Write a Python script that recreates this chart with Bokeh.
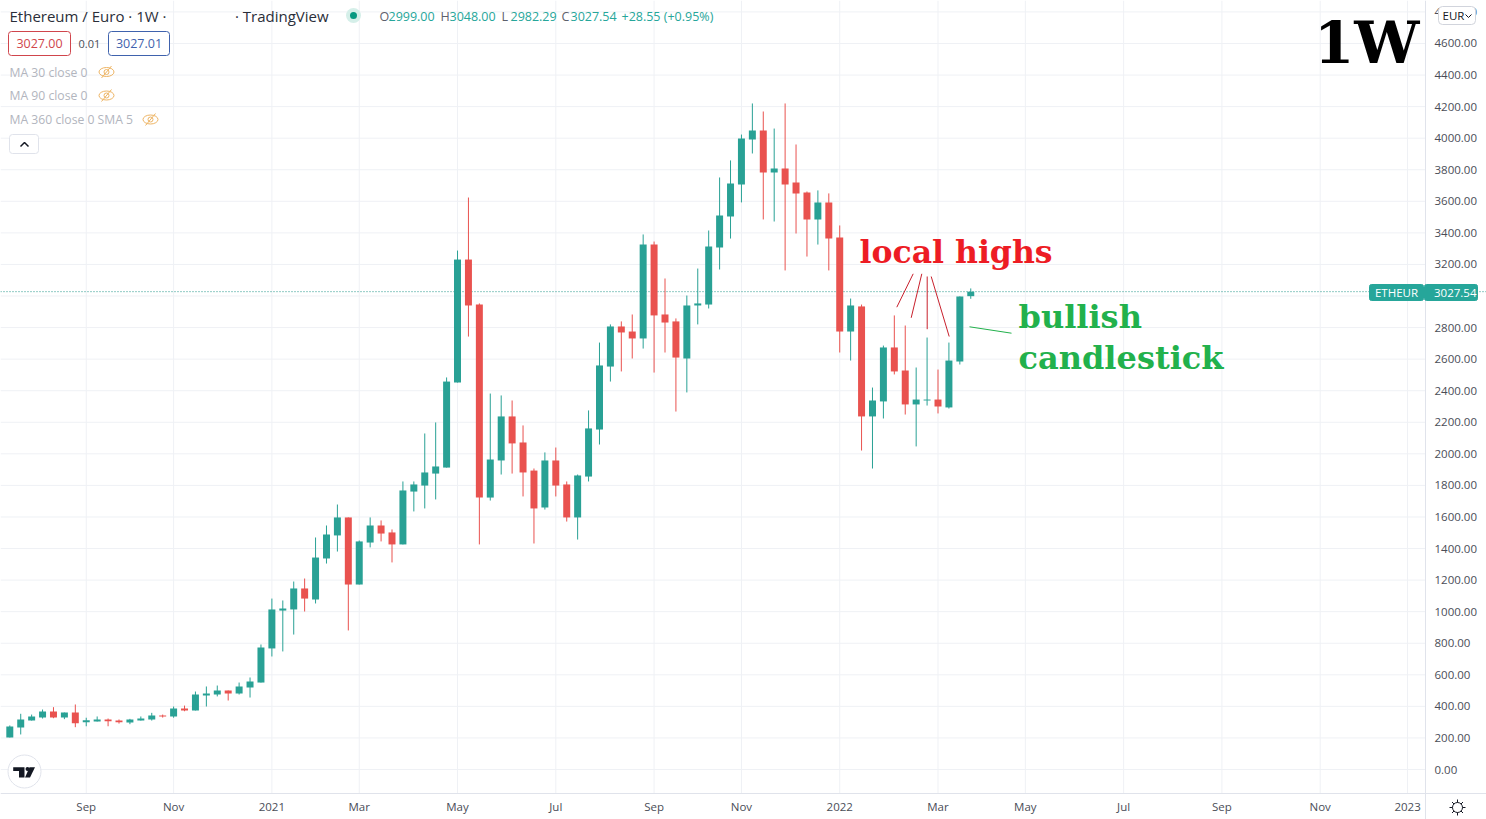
from bokeh.plotting import figure
from bokeh.models import Range1d, FixedTicker, NumeralTickFormatter, Label
from bokeh.embed import file_html
from bokeh.resources import INLINE

opens = [203,266,310,329,367,329,361,300,304,317,310,298,310,317,342,336,386,374,469,475,501,482,520,551,767,1007,1014,1147,1077,1337,1483,1597,1172,1438,1546,1502,1426,1761,1799,1875,1913,2452,3231,2946,1723,1958,2237,2072,1894,1660,1958,1806,1597,1856,2154,2553,2807,2775,2731,3326,2883,2839,2604,2940,2946,3307,3504,3707,3992,4049,3783,3808,3719,3656,3485,3593,3371,2775,2934,2237,2332,2674,2528,2313,2338,2344,2294,2585,2999.00]
highs = [279,353,348,380,395,361,412,328,336,323,317,321,336,359,348,399,405,494,526,532,501,551,583,792,1083,1071,1191,1210,1470,1546,1679,1597,1451,1597,1578,1521,1825,1825,2129,2199,2484,3288,3624,2953,2382,2370,2338,2180,1907,2009,2040,1825,1869,2275,2705,2820,2839,2883,3390,3345,3111,2858,3003,3174,3415,3751,3859,4023,4220,4169,4061,4220,3960,3662,3669,3650,3447,2984,2946,2420,2686,2877,2813,2547,2737,2534,2705,2997,3048.00]
lows = [203,222,310,323,325,319,268,274,304,274,291,287,310,310,329,328,369,374,399,463,437,475,456,551,716,748,855,1001,1052,1305,1381,881,1172,1407,1445,1312,1426,1635,1654,1711,1913,2452,2743,1426,1704,1869,1875,1730,1432,1647,1730,1571,1457,1825,2059,2458,2522,2604,2667,2515,2642,2268,2389,2820,2921,3168,3364,3593,3903,3485,3472,3162,3396,3250,3326,3162,2642,2591,2021,1907,2224,2503,2249,2047,2306,2256,2287,2566,2982.29]
closes = [272,317,336,367,329,361,293,312,317,306,300,317,323,342,336,386,374,475,482,501,482,526,558,773,1014,1020,1147,1083,1343,1489,1597,1172,1445,1546,1495,1426,1768,1806,1882,1920,2458,3231,2940,1723,1964,2237,2066,1882,1654,1958,1799,1597,1863,2161,2560,2807,2769,2731,3326,2877,2832,2610,2940,2953,3314,3510,3713,3998,4049,3783,3808,3707,3650,3485,3593,3364,2775,2940,2237,2338,2674,2522,2313,2344,2344,2300,2591,2997,3027.54]

month_weeks = [7,15,24,32,41,50,59,67,76,85,93,102,111,120,128]
month_labels = ["Sep","Nov","2021","Mar","May","Jul","Sep","Nov","2022","Mar","May","Jul","Sep","Nov","2023"]
price_ticks = list(range(0, 5000, 200))
last_close = 3027.54

UP, DOWN = "#29a195", "#e9524f"
GRID = "#eff1f5"
UI = "Open Sans"
W, H, AX, AY = 1486, 819, 1425, 793

def X(px): return (px - 9.3) / 10.92
def Y(py): return (769 - py) / 0.15783

p = figure(width=W, height=H, output_backend="svg", toolbar_location=None,
           x_range=Range1d(X(0), X(W)), y_range=Range1d(Y(H), Y(0)),
           min_border=0, y_axis_location="right", background_fill_color="white")
p.outline_line_color = None
p.grid.visible = False

xa, ya = p.xaxis[0], p.yaxis[0]
xa.fixed_location = Y(AY)
ya.fixed_location = X(AX)
xa.ticker = FixedTicker(ticks=month_weeks)
xa.major_label_overrides = dict(zip(month_weeks, month_labels))
ya.ticker = FixedTicker(ticks=price_ticks)
ya.formatter = NumeralTickFormatter(format="0.00")
for a in (xa, ya):
    a.axis_line_color = "#e0e3eb"
    a.major_tick_line_color = None
    a.minor_tick_line_color = None
    a.major_tick_out = 0
    a.major_label_text_font = UI
    a.major_label_text_font_size = "11.5px"
    a.major_label_text_color = "#4a4d57"
ya.major_label_standoff = 9
xa.major_label_standoff = 5

p.segment(month_weeks, [Y(AY)] * len(month_weeks), month_weeks, [Y(0)] * len(month_weeks), line_color=GRID, level="underlay")
p.segment([X(0)] * len(price_ticks), price_ticks, [X(AX)] * len(price_ticks), price_ticks, line_color=GRID, level="underlay")
p.segment([X(0)], [last_close], [X(W)], [last_close], line_color="#1f9488", line_dash="1 2", level="underlay")

idx = list(range(len(opens)))
cols = [UP if c >= o else DOWN for o, c in zip(opens, closes)]
p.segment(idx, lows, idx, highs, line_color=cols, line_width=1)
p.vbar(x=idx, bottom=opens, top=closes, width=0.64, fill_color=cols, line_color=None)

def txt(s, px, py, size, color, font=UI, style="normal", align="left", level="annotation"):
    p.add_layout(Label(x=X(px), y=Y(py), text=s, text_font=font, text_font_size=f"{size}px", text_color=color,
                       text_font_style=style, text_align=align, text_baseline="middle", level=level))

def box(l, t, r, b, fill, line, radius=3):
    p.quad(left=[X(l)], right=[X(r)], top=[Y(t)], bottom=[Y(b)], fill_color=fill,
           line_color=line, border_radius=radius, level="annotation")

# Hand-drawn annotations
SERIF = "DejaVu Serif"
txt("1W", 1313.5, 42, 58, "#000000", SERIF, "bold")
txt("local highs", 859, 251, 31.5, "#ed1c24", SERIF, "bold")
txt("bullish", 1018, 316.5, 32, "#22b14c", SERIF, "bold")
txt("candlestick", 1018, 357.5, 32, "#22b14c", SERIF, "bold")
for (a, b, c, d) in [(912.7,273.3,896.3,306.7),(921.3,273.3,910.7,317.3),(926.7,276,926.7,328.7),(930.7,276,948.7,336)]:
    p.segment([X(a)], [Y(b)], [X(c)], [Y(d)], line_color="#c8202c", line_width=1)
p.segment([X(969)], [Y(326.3)], [X(1011)], [Y(332.7)], line_color="#22b14c", line_width=1)

# Header
txt("Ethereum / Euro · 1W ·", 9, 15, 15, "#2a2e39")
txt("· TradingView", 234.5, 15, 15, "#2a2e39")
p.scatter([X(353)], [Y(15)], size=15, fill_color="#d5efe9", line_color=None)
p.scatter([X(353)], [Y(15)], size=7, fill_color="#089981", line_color=None)
for lab, val, px in [("O","2999.00",379),("H","3048.00",440),("L","2982.29",501),("C","3027.54",561)]:
    txt(lab, px, 16, 12.5, "#5d606b")
    txt(val, px + 9, 16, 12.5, "#26a69a")
txt("+28.55 (+0.95%)", 621, 16, 12.5, "#26a69a")

box(8, 31, 70, 55, "white", "#d0454c")
txt("3027.00", 39, 43, 12.5, "#d0454c", align="center", level="overlay")
txt("0.01", 78, 43, 11, "#4a4d57")
box(108, 31, 169, 55, "white", "#3f62ad")
txt("3027.01", 138.5, 43, 12.5, "#3f62ad", align="center", level="overlay")

for s, py, ex in [("MA 30 close 0", 71.5, 106), ("MA 90 close 0", 95, 106), ("MA 360 close 0 SMA 5", 119, 150)]:
    txt(s, 9, py, 12.2, "#b2b5be")
    p.ellipse([X(ex)], [Y(py)], width=15/10.92, height=9/0.15783, fill_color=None, line_color="#eeb565", line_width=1)
    p.ellipse([X(ex)], [Y(py)], width=5/10.92, height=5/0.15783, fill_color=None, line_color="#eeb565", line_width=1)
    p.segment([X(ex-5)], [Y(py+6)], [X(ex+5)], [Y(py-6)], line_color="#eeb565", line_width=1)

box(9, 134, 38, 153, "white", "#e0e3eb")
p.line([X(20), X(24), X(28)], [Y(146), Y(142), Y(146)], line_color="#131722", line_width=1.5, level="overlay")

# TradingView badge
p.scatter([X(24)], [Y(771)], size=33, fill_color="white", line_color="#e0e3eb")
p.patch([X(v) for v in (12.7,24,24,18.5,18.5,12.7)], [Y(v) for v in (766.7,766.7,777,777,770.5,770.5)], fill_color="#131722", line_color=None)
p.patch([X(v) for v in (29,34.5,29.5,24.5)], [Y(v) for v in (766.7,766.7,777,777)], fill_color="#131722", line_color=None)
p.scatter([X(27)], [Y(768.5)], size=4, fill_color="#131722", line_color=None)

# Price tags and currency button (over the axis)
box(1369, 284, 1423, 300, "#26a69a", "#26a69a", 2)
box(1424, 284, 1477, 300, "#26a69a", "#26a69a", 2)
txt("ETHEUR", 1396, 292, 11.5, "white", align="center", level="overlay")
txt("3027.54", 1433.5, 292, 11.5, "white", level="overlay")
box(1438, 6, 1475, 24, "white", "#d1d4dc", 4)
txt("EUR", 1442, 15, 11.5, "#131722", level="overlay")
p.line([X(1465), X(1468), X(1471)], [Y(14), Y(17), Y(14)], line_color="#131722", line_width=1, level="overlay")

# Settings icon at the corner of the axes
p.scatter([X(1457)], [Y(807)], size=10, fill_color="white", line_color="#131722", line_width=1)
for a, b, c, d in [(1457,799,1457,802),(1457,812,1457,815),(1449,807,1452,807),(1462,807,1465,807),
                   (1451.5,801.5,1453.5,803.5),(1460.5,810.5,1462.5,812.5),(1451.5,812.5,1453.5,810.5),(1460.5,803.5,1462.5,801.5)]:
    p.segment([X(a)], [Y(b)], [X(c)], [Y(d)], line_color="#131722", line_width=1)

open("out.html", "w").write(file_html(p, INLINE))
